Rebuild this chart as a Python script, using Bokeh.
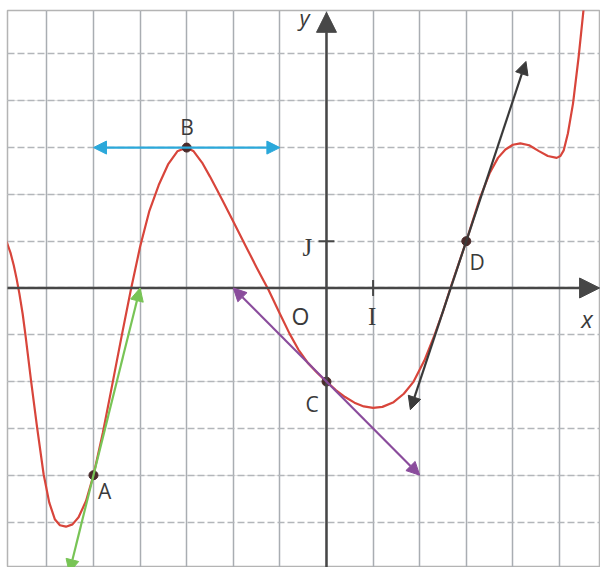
from bokeh.plotting import figure
from bokeh.models import Range1d, Grid, FixedTicker, Arrow, NormalHead, Label
from bokeh.core.properties import value
from bokeh.embed import file_html
from bokeh.resources import INLINE

# ---- data ----
curve_x = [-6.95, -6.85, -6.78, -6.71, -6.65, -6.59, -6.52, -6.46, -6.34, -6.21,
           -6.07, -5.95, -5.83, -5.72, -5.59, -5.45, -5.32, -5.16, -5.0, -4.8,
           -4.6, -4.4, -4.2, -4.0, -3.8, -3.6, -3.4, -3.2, -3.0, -2.85,
           -2.67, -2.5, -2.35, -2.2, -2.0, -1.74, -1.5, -1.24, -1.0, -0.79,
           -0.6, -0.4, -0.2, 0.0, 0.2, 0.4, 0.6, 0.8, 1.0, 1.2,
           1.44, 1.66, 1.87, 2.1, 2.32, 2.5, 2.66, 2.83, 3.0, 3.15,
           3.3, 3.5, 3.68, 3.84, 4.0, 4.16, 4.35, 4.55, 4.75, 4.94,
           5.02, 5.09, 5.18, 5.29, 5.41, 5.51, 5.56]
curve_y = [1.2, 0.95, 0.75, 0.48, 0.2, -0.12, -0.55, -1.0, -1.98, -2.98,
           -3.98, -4.58, -4.94, -5.07, -5.10, -5.05, -4.9, -4.55, -4.0, -3.1,
           -2.08, -1.05, -0.05, 0.88, 1.65, 2.2, 2.64, 2.92, 3.0, 2.92,
           2.68, 2.38, 2.1, 1.81, 1.42, 0.91, 0.44, -0.05, -0.55, -0.98,
           -1.32, -1.6, -1.81, -2.0, -2.18, -2.33, -2.45, -2.53, -2.56, -2.54,
           -2.44, -2.26, -2.0, -1.55, -1.0, -0.5, 0.0, 0.5, 1.0, 1.47,
           1.94, 2.45, 2.78, 2.96, 3.06, 3.09, 3.05, 2.93, 2.82, 2.78,
           2.82, 2.94, 3.3, 3.94, 4.93, 5.89, 6.4]

point_names = ["A", "B", "C", "D"]
point_x = [-5, -3, 0, 3]
point_y = [-4, 3, -2, 1]

# tangents (start / end of each double arrow)
tan_x0 = [-5.52, -5.0, -2.0, 1.8]
tan_y0 = [-6.08, 3.0, 0.0, -2.6]
tan_x1 = [-4.0, -1.0, 2.0, 4.28]
tan_y1 = [0.0, 3.0, -4.0, 4.84]
tan_colors = ["#78c456", "#2ba8da", "#8a4c9c", "#3a3a3a"]

grid_x_ticks = list(range(-7, 7))
grid_y_ticks = list(range(-6, 7))
unit_tick_x = [1]
unit_tick_y = [1]

X_LEFT, X_RIGHT = -6.845, 5.880
Y_BOTTOM, Y_TOP = -5.972, 5.929

# ---- figure ----
p = figure(width=600, height=567, output_backend="svg", toolbar_location=None,
           x_range=Range1d(X_LEFT, X_RIGHT), y_range=Range1d(Y_BOTTOM, Y_TOP),
           x_axis_location=None, y_axis_location=None,
           min_border_left=7, min_border_right=0, min_border_top=10, min_border_bottom=0)
p.background_fill_color = "white"
p.border_fill_color = "white"
p.outline_line_color = "#b4b4b4"
p.outline_line_width = 1.5

p.add_layout(Grid(dimension=0, ticker=FixedTicker(ticks=grid_x_ticks),
                  grid_line_color="#a9adb2", grid_line_width=1.5))
p.add_layout(Grid(dimension=1, ticker=FixedTicker(ticks=grid_y_ticks),
                  grid_line_color="#b3b6ba", grid_line_width=1.5, grid_line_dash="7 3"))

axis_col = "#474747"
lab_col = "#3a3a3a"

# unit ticks
th = 0.17
p.segment(x0=unit_tick_x, y0=[-th] * len(unit_tick_x), x1=unit_tick_x, y1=[th] * len(unit_tick_x),
          line_color=axis_col, line_width=2)
p.segment(x0=[-th] * len(unit_tick_y), y0=unit_tick_y, x1=[th] * len(unit_tick_y), y1=unit_tick_y,
          line_color=axis_col, line_width=2)

# curve
p.line(curve_x, curve_y, line_color="#d8453b", line_width=2.2, line_join="round")

# points
p.scatter(point_x, point_y, size=9, color="#4a2a2a")

# labels
lbl_x = [-4.76, -2.99, -0.31, 3.23]
lbl_y = [-4.33, 3.44, -2.47, 0.55]
p.text(x=lbl_x, y=lbl_y, text=point_names, text_font=value("Open Sans"),
       text_font_size="21px", text_align="center", text_baseline="middle", text_color=lab_col)
p.text(x=[-0.56], y=[-0.59], text=["O"], text_font=value("Open Sans"),
       text_font_size="23px", text_align="center", text_baseline="middle", text_color=lab_col)
p.text(x=[0.98, -0.41], y=[-0.61, 0.87], text=["I", "J"], text_font=value("Liberation Serif"),
       text_font_size="25px", text_align="center", text_baseline="middle", text_color=lab_col)
p.text(x=[5.59], y=[-0.66], text=["x"], text_font=value("Open Sans"),
       text_font_style="italic", text_font_size="24px", text_align="center",
       text_baseline="middle", text_color=lab_col)

# axes with arrowheads
p.add_layout(Arrow(end=NormalHead(size=20, fill_color=axis_col, line_color=axis_col),
                   x_start=-6.9, y_start=0, x_end=5.86, y_end=0,
                   line_color=axis_col, line_width=2.5))
p.add_layout(Arrow(end=NormalHead(size=20, fill_color=axis_col, line_color=axis_col),
                   x_start=0, y_start=-6.1, x_end=0, y_end=5.89,
                   line_color=axis_col, line_width=2.5))

# tangents
for x0, y0, x1, y1, c in zip(tan_x0, tan_y0, tan_x1, tan_y1, tan_colors):
    p.add_layout(Arrow(start=NormalHead(size=13, fill_color=c, line_color=c),
                       end=NormalHead(size=13, fill_color=c, line_color=c),
                       x_start=x0, y_start=y0, x_end=x1, y_end=y1,
                       line_color=c, line_width=2.2))

p.add_layout(Label(x=-0.47, y=5.80, text="y", text_font="Open Sans", text_font_style="italic",
                   text_font_size="22px", text_align="center", text_baseline="middle",
                   text_color=lab_col))

open("out.html", "w").write(file_html(p, INLINE))
